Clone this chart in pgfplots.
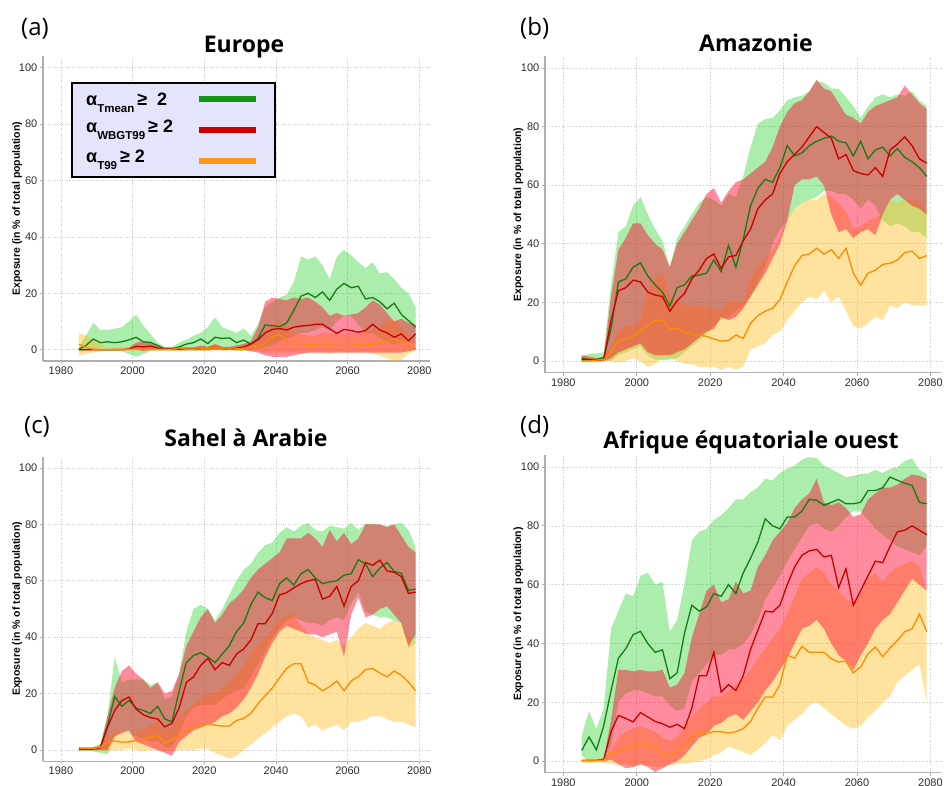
\documentclass[border=0pt]{standalone}
\usepackage{pgfplots}
\pgfplotsset{compat=1.18}
\usepackage{pgfplotstable}
\usepgfplotslibrary{fillbetween}
\usepackage{fontspec}
\setmainfont{Liberation Sans}
\newfontfamily\titlefont{Open Sans}

\definecolor{gline}{RGB}{20,125,20}
\definecolor{rline}{RGB}{200,0,0}
\definecolor{oline}{RGB}{255,140,0}
\definecolor{gfill}{RGB}{0,200,0}
\definecolor{rfill}{RGB}{255,0,40}
\definecolor{ofill}{RGB}{255,190,40}
\definecolor{axgray}{RGB}{175,175,175}
\definecolor{gridgray}{RGB}{200,200,200}
\definecolor{ticktext}{RGB}{45,45,45}
\definecolor{legbg}{RGB}{228,228,250}

% columns: year, green (Tmean) mean/low/high, red (WBGT99), orange (T99)
\pgfplotstableread{
yr gm glo ghi rm rlo rhi om olo ohi
1985 0.2 -0.5 1 0 0 0.3 2 -2 6
1987 1.5 -0.5 5 0 0 0.3 0.8 -1.5 5
1989 3.8 0 9.5 0 0 0.3 0.2 -1 3.5
1991 2.5 -0.5 7 0 0 0.3 0 -0.5 2
1993 2.8 -0.5 7 0 0 0.3 0 0 0.8
1995 2.5 -0.5 7.5 0 0 0.3 0.2 -0.3 0.8
1997 2.8 -0.5 8 0 0 0.3 0.2 -0.3 0.8
1999 3.5 -1.5 10 0.2 0 0.8 0.2 -0.3 0.8
2001 4.4 -2.5 12.5 1.2 0 2.5 0.2 -0.3 0.8
2003 2.8 -1.5 8.5 1 -0.5 3 0.2 -0.3 0.8
2005 2.6 -0.5 5.5 1.3 0 2.5 0.2 -0.3 0.8
2007 1.5 -0.5 2.5 0.6 0 1.5 0.2 -0.3 0.8
2009 0.2 -0.5 1 0.2 0 0.8 0.2 -0.3 0.8
2011 0.3 -0.5 1 0.3 0 0.8 0.2 -0.3 0.8
2013 1 -0.5 2.5 0.2 0 0.8 0.5 -0.3 1
2015 2 -0.5 3.5 0.2 0 0.8 0.2 -0.3 0.8
2017 2.5 -0.5 5 0.2 0 0.8 0.2 -0.3 0.8
2019 3.8 -0.5 6 0.3 0 1.5 0.3 -0.3 1
2021 2.2 -0.5 8 0.3 0 1 0.3 -0.3 1
2023 4.4 0 11.5 1 0 2 1 -0.3 2
2025 4 0 8 0.3 0 1 0.3 -0.3 1
2027 4.2 0 7 0.2 0 1 0.2 -0.3 0.8
2029 2.5 -0.5 6 0.5 0 1.5 0.3 -0.3 1
2031 3.4 -0.5 7.5 1 0 2 0.5 -0.3 1.5
2033 2 0 5 2 -0.5 3 0.8 -0.5 2
2035 4 0.5 9 3.5 -1 8 1.2 -0.5 3
2037 8.8 1 15 6 -2 17 2.5 -1 6
2039 8.5 1.5 17 7.2 -2.5 18.5 4.5 -1 9
2041 8.2 3 18.5 7.5 -2.5 18 5.5 -1 10
2043 9.5 4 19.5 7 -2.5 17.5 3 -1 8
2045 14 5 24 8 -2 18.5 2.8 -1 6
2047 19 6 33 8.4 -1.5 18 2.2 -1 5.5
2049 20 6 32 8.6 -1 18.5 2 -1 5
2051 18.5 7 33 9 -1 17 1.8 -1 5
2053 20.5 8 30 9 -1 15 2.5 -1 6
2055 17.5 7 25 7.4 -1 12 1.6 -1.5 5.5
2057 21.5 10 33 5.8 -1 13 1.5 -1 6
2059 23.5 12 35.5 7.2 -1 12 1.5 -1 5.5
2061 22 12 33.5 6.8 -1 12.5 1.5 -1 6
2063 22.5 9 31 6.2 -1 13 1.8 -1 6
2065 18 6 29 6.8 -1 15 1.5 -1 6.5
2067 18.5 6 31 9 -1 17.5 2 -1.5 7
2069 17 4 27 7 -1 16 2.3 -2 8
2071 14.5 3 27.5 6 -1 13 3 -3 10
2073 16.5 2 25 4.4 -1 10 3.8 -4.5 11
2075 12.5 2.5 22 5.6 -1 11 3 -3.5 8
2077 10.3 3 20 3.2 -0.5 9.5 1.2 -1.5 5
2079 8 2 15 5.6 0 9 0.5 0 2
}\eur

\pgfplotstableread{
yr gm glo ghi rm rlo rhi om olo ohi
1985 1 -0.5 1.5 0.5 0 2 0 0 1
1987 0.5 -0.5 2.5 0.5 0 1.5 0 0 1
1989 0.5 -0.5 2.6 0.3 0 1 0.3 0 1
1991 1 0 3 0.5 0 1.5 0.5 0 1
1993 11 0 26 14 1 22 3 0 5
1995 27 2 44 24 3 38 7 -0.5 10
1997 28 3 46 25 4 42 7.4 0 12
1999 32 4 53 27.6 5 47 8.3 1 12
2001 33.5 5 56 27 6 47 10.5 0 14
2003 29 2 50 23.5 3 43 12 -2 24
2005 26 0.5 45 22.5 2 40 13.8 -1 28
2007 23.5 0.3 41 22 2 38 14 1 30
2009 18.8 0.5 32 17 2 32 11 1 22
2011 25 1 42 20.5 3 40 11 0 20
2013 26 3 46 23 4 44 10 -1 19
2015 29 5 50 28 6 48 8.9 -1 19
2017 29.3 7 54 31 8 52 8.9 -2 19
2019 30 9 56 35 10 57 8.4 -2 18
2021 34.5 12 55 36.5 11 59 7.5 -2 18
2023 30.5 14 53 31.6 15 54 6.8 -3 17
2025 39.5 15 57 35.5 14 58 7 -2 20
2027 32 17 56 36 15 61 8.9 -3 20
2029 41.5 19 63 41 18 62 7.7 -2 20
2031 53 22 73 45 22 64 12.9 4 28
2033 59 27 81 52 26 66 15.5 5 32
2035 62 32 82.5 55 30 68 17 6 35
2037 61 40 83 57 35 73 18 9 38
2039 66 45 85.5 64 40 80 21 10 42
2041 73.5 48 89 68 48 85 27 14 49
2043 70 52 90 70.5 60 88 32.5 17 52
2045 71 54 90.5 73 62 89 36 20 54
2047 73.5 55 92 76.5 62 92 36.5 22 55
2049 75 56 95.5 80 63 96 38.5 21 55
2051 76 58 95 78 60 93 36.5 24 57
2053 76.8 58 93 76 50 92 38 20 56
2055 75 57 93 69 44 88 35 22 54
2057 74.5 57 90 70.5 45 84 38.5 17 51
2059 70 55 87 65 42 83 30 12 45
2061 75 52 83 64 44 81 25.9 11 46
2063 69 55 86.8 63.5 45 85 30 13 48
2065 72 53 90 66 43 87 31 15 49
2067 73 48 91 63 50 88 33 14 50
2069 70 46 90 72 55 89 33.3 19 55
2071 72.5 47 91 74 57 90 34.5 18 54
2073 69.5 46 90.5 76.5 55 94 37 20 55
2075 68 44 92 73.5 53 91 37.5 19 55
2077 66 44 89 69 52 88 35 19 54
2079 63 42 87 67.5 50 86 36 19 51
}\ama

\pgfplotstableread{
yr gm glo ghi rm rlo rhi om olo ohi
1985 0.5 -0.5 1 0.3 0 0.8 0.7 0 1
1987 0.5 -0.5 1 0.3 0 0.8 0.6 0 1
1989 0.5 -0.5 1 0.3 0 0.8 0.5 0 1
1991 1 -1 2 0.8 0 1.5 1 0 2
1993 8.7 -1.5 12 8 0 12 2.8 -0.5 5
1995 19 4 33 14 5 22 3.2 0 6
1997 15.5 7 24 17.5 6 28 2.8 0 7
1999 17.6 6 25 18.8 7 30 2.9 0.5 6
2001 14.8 5 25 14.5 3 27 3.4 0 6
2003 14 4 25 12.5 2 25 3.9 -0.5 7
2005 13 3 23 11.5 1 22 4.6 0 9
2007 15.5 3 24 11 0 24 5.1 0 10
2009 11 1 18 8.2 -1 20 2.6 -0.5 7
2011 10 1 19 9.5 -2 21 3.6 -0.5 8
2013 21 6 27 15 3 27 5.2 0 12
2015 31 12 42 24 5 37 7.3 0 14
2017 33.5 15 50 25.9 7 42 8.1 0 16
2019 34.5 16 51.5 30 8 47 8.5 0.5 18
2021 33 16 50 32.5 9 50 9.3 0.5 20
2023 31 16 46 28.5 10 45 8.8 -1 20
2025 34 18 50 31 12 48 8.5 -2 22
2027 37 20 55 30 13 52 8.5 -3 24
2029 42 21 60 34 15 54 10.5 -2 27
2031 45 22 64 35.8 18 57 11.2 0 30
2033 51.5 26 66 39 22 61 13 2 34
2035 56 30 70 44.8 27 64 16.4 4 37
2037 54 35 72.6 44.8 33 66 19.3 6 40
2039 53 40 73.5 48.5 38 68 22 8 43
2041 59 43 77 55 42 70 25.6 10 46
2043 61 46 79 55.8 44 75 29 12 48
2045 58.5 47 77.5 57.5 43 75 30.6 13 48
2047 62.5 46 79.5 59 42 75 30.6 12 44
2049 64 45 80.5 60 41 77 24.1 8 41
2051 61 45 78 60.5 41 75 23 9 40
2053 59 44 77.5 53.5 40 72 21 7 39
2055 59.6 46 79.5 54.5 41 78 22.5 8 38
2057 60 47 79 58 42 74 24.5 9 39
2059 62 46 78.5 51 33 77 21 7 37
2061 62.5 52 80.5 58 48 73 24.5 10 40
2063 67.5 56 78 60 54 75 26 10 43
2065 66 49 80.3 66.5 47 80 28.5 11 45
2067 61.5 48 80.3 65.5 48 80 28.9 12 44
2069 64.5 47 79.8 67.3 50 80 27.3 12 43
2071 66.5 47 79.5 63.5 51 79 26 11 45
2073 63.3 46 80 63 48 80 28 10 46
2075 62.7 45 80.5 61.5 45 76 26.5 10 45
2077 56.6 36 78 55.5 37 72 24.1 9 40
2079 57 38 72 56 41 70 21 8 38
}\sah

\pgfplotstableread{
yr gm glo ghi rm rlo rhi om olo ohi
1985 3.6 2 8.7 0.2 0 0.5 0.2 -0.5 0.5
1987 8.2 -0.5 17 0.2 0 0.5 0.2 -0.5 0.5
1989 3.8 0.5 11 0.2 0 0.5 0.2 -0.5 0.5
1991 12 0.8 18 0.5 0 1 0.3 -0.5 0.8
1993 24 5 45 10 0.5 14 3 -1 4
1995 35 20 51 15.5 -1 31 3.1 -1.5 8
1997 38.2 23 57 14.5 -2.5 31 4 -1 10
1999 43 24 56 13.3 -2 30.5 5 -2 11
2001 44.1 24 63 16.5 -1 31 6.3 -1.5 12
2003 40 23 64 15 -2 30.5 5.4 -1.5 11
2005 37 22 60 13.5 -3.7 30.5 4.5 -2 10
2007 37.8 22 61 12.7 -2.5 31 2.7 -2 8
2009 28 19 44 11.5 -1 25 1.7 -1.5 7
2011 30 17 48 12.5 0 26 3 -1 8
2013 43.5 18 60 11 2 30 5.5 -1 12
2015 53 27 75 18 5 42 8 -0.5 15
2017 51 30 78 29 8 50 9.8 0 18
2019 52.4 33 79 29 9 58 9.5 0.5 20
2021 57 36 82 37 12 60 10 2 22
2023 56 36 83.6 23.5 13 54 10 3 22
2025 60 38 86 26 15 55 9.5 5 24
2027 57 38 89 24 16 61 10 4 26
2029 64 40 89 29 14 57 11 3 28
2031 69 43 91.5 38 17 58 13.5 2 31
2033 74.5 48 93 44.5 20 66 18 4 35
2035 82.4 55 96 51 24 70 21.8 6 38
2037 80 59 95.5 50.7 27 75 21.8 9 42
2039 79 63 98 53 31 78 26 7 45
2041 83 68 99.5 60 35 81 36 12 50
2043 83 72 100.5 66 40 86 35 14 56
2045 85 76 102.5 70 45 89 39 16 62
2047 89 80 103.4 71.5 46 91 37 19 64
2049 88.7 81 103 72 48 96 37 20 66
2051 87 79 100.5 69.4 45 88 37 18 64
2053 88 78 99.3 70 40 87 34.8 16 60
2055 89 80 98 59 36 88 33.7 14 58
2057 87.5 83 96.6 65.4 34 86 34 12 55
2059 87.5 85 97 53 31 83 30 11 54
2061 88 85 97.7 58 36 84 32 12 57
2063 92 82 97.8 63 40 89 36.5 15 62
2065 92 79 99 68 45 91 38.8 17 64
2067 93 77 98 67.5 48 93 35.5 20 61
2069 96.6 75 99.4 73 50 93 38.5 22 64
2071 95.5 73 100 78 54 94 41 27 66
2073 94.5 72 102 78.5 58 96 44 29 67
2075 93.8 71 103 80 62 97.5 45 31 68
2077 88 70 99 78.5 60 97 50 33 66
2079 87.5 73 97.7 77 58 96 44 20 58
}\afr

\pgfplotsset{
  panel/.style={
    scale only axis, anchor=south west,
    xmin=1975, xmax=2083, ymin=-4, ymax=104,
    axis x line*=bottom, axis y line*=left,
    axis line style={draw=axgray, line width=1.3pt},
    xtick={1980,2000,...,2080}, ytick={0,20,...,100},
    grid=major,
    major grid style={dotted, draw=gridgray, line width=0.7pt},
    tick align=outside, major tick length=3pt,
    tick style={draw=axgray, line width=0.8pt},
    ticklabel style={font=\fontsize{11}{13}\selectfont, text=ticktext, inner sep=2.5pt},
    /pgf/number format/1000 sep={},
    /pgf/number format/assume math mode=true,
    ylabel={Exposure (in \% of total population)},
    ylabel style={font=\bfseries\fontsize{10.5}{12}\selectfont,
      at={(axis description cs:-0.067,0.5)}, anchor=center},
  }
}

\newcommand{\bands}[1]{%
  \addplot[draw=none, forget plot, name path=glo] table[x=yr, y=glo]{#1};
  \addplot[draw=none, forget plot, name path=ghi] table[x=yr, y=ghi]{#1};
  \addplot[fill=gfill, fill opacity=0.33, draw=none, forget plot] fill between[of=glo and ghi];
  \addplot[draw=none, forget plot, name path=olo] table[x=yr, y=olo]{#1};
  \addplot[draw=none, forget plot, name path=ohi] table[x=yr, y=ohi]{#1};
  \addplot[fill=ofill, fill opacity=0.45, draw=none, forget plot] fill between[of=olo and ohi];
  \addplot[draw=none, forget plot, name path=rlo] table[x=yr, y=rlo]{#1};
  \addplot[draw=none, forget plot, name path=rhi] table[x=yr, y=rhi]{#1};
  \addplot[fill=rfill, fill opacity=0.45, draw=none, forget plot] fill between[of=rlo and rhi];
  \addplot[gline, line width=1.3pt] table[x=yr, y=gm]{#1};
  \addplot[rline, line width=1.3pt] table[x=yr, y=rm]{#1};
  \addplot[oline, line width=1.3pt] table[x=yr, y=om]{#1};
}

\begin{document}
\begin{tikzpicture}

\begin{axis}[panel, at={(43pt,424pt)}, width=387pt, height=304.6pt]
\bands{\eur}
\end{axis}
\begin{axis}[panel, at={(545pt,412.3pt)}, width=396.4pt, height=316.4pt]
\bands{\ama}
\end{axis}
\begin{axis}[panel, at={(43pt,23.7pt)}, width=387pt, height=304.6pt]
\bands{\sah}
\end{axis}
\begin{axis}[panel, at={(545pt,12.2pt)}, width=396.4pt, height=317.5pt]
\bands{\afr}
\end{axis}

% titles and panel letters
\begin{scope}[every node/.style={inner sep=0pt}]
\node[anchor=base, font=\titlefont\bfseries\fontsize{23}{27}\selectfont] at (244pt,732pt) {Europe};
\node[anchor=base, font=\titlefont\bfseries\fontsize{23}{27}\selectfont] at (756pt,733pt) {Amazonie};
\node[anchor=base, font=\titlefont\bfseries\fontsize{23}{27}\selectfont] at (246pt,338pt) {Sahel à Arabie};
\node[anchor=base, font=\titlefont\bfseries\fontsize{23}{27}\selectfont] at (751pt,336pt) {Afrique équatoriale ouest};
\node[anchor=base west, font=\titlefont\fontsize{24}{28}\selectfont] at (21pt,749pt) {(a)};
\node[anchor=base west, font=\titlefont\fontsize{24}{28}\selectfont] at (520pt,749pt) {(b)};
\node[anchor=base west, font=\titlefont\fontsize{24}{28}\selectfont] at (24pt,352pt) {(c)};
\node[anchor=base west, font=\titlefont\fontsize{24}{28}\selectfont] at (520pt,352pt) {(d)};
\end{scope}

% legend of panel (a)
\draw[line width=1.5pt, fill=legbg] (72pt,608pt) rectangle (275pt,702pt);
\begin{scope}[every node/.style={inner sep=0pt, anchor=base west, font=\bfseries\fontsize{18}{20}\selectfont}]
\node at (86pt,679pt) {α\raisebox{-7pt}{\fontsize{11.5}{12}\selectfont Tmean}\,≥\ \ 2};
\node at (86pt,652pt) {α\raisebox{-7pt}{\fontsize{11.5}{12}\selectfont WBGT99}\,≥ 2};
\node at (86pt,622pt) {α\raisebox{-7pt}{\fontsize{11.5}{12}\selectfont T99}\,≥ 2};
\end{scope}
\draw[draw={rgb,255:red,20;green,150;blue,20}, line width=6pt] (199pt,686pt) -- (256pt,686pt);
\draw[draw={rgb,255:red,205;green,0;blue,0}, line width=6pt] (199pt,655pt) -- (256pt,655pt);
\draw[draw={rgb,255:red,255;green,150;blue,20}, line width=6pt] (199pt,624pt) -- (256pt,624pt);

\pgfresetboundingbox
\path (0pt,0pt) rectangle (944pt,785pt);
\end{tikzpicture}
\end{document}
